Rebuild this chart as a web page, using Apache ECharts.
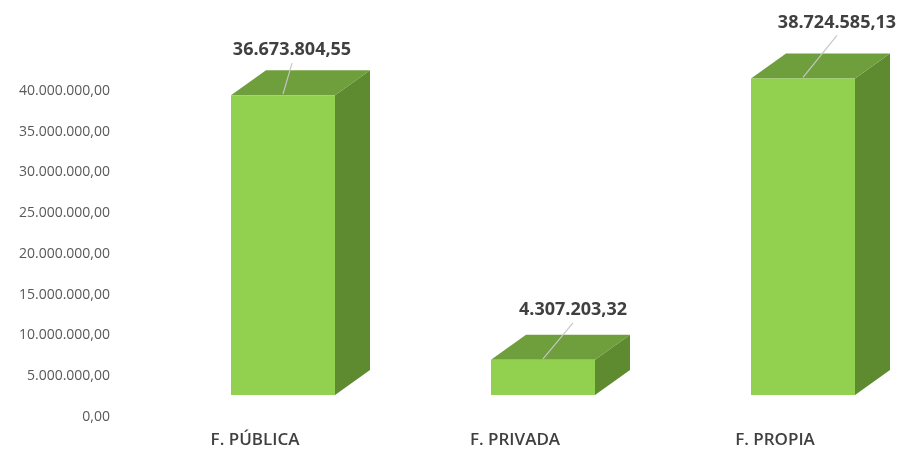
<!DOCTYPE html>
<html lang="es">
<head>
<meta charset="utf-8">
<title>Financiación</title>
<script src="https://cdn.jsdelivr.net/npm/echarts@6/dist/echarts.min.js"></script>
<style>
  html, body { margin: 0; padding: 0; background: #fff; }
  #main { width: 905px; height: 453px; }
</style>
</head>
<body>
<div id="main"></div>
<script>
// datos
var categories = ['F. PÚBLICA', 'F. PRIVADA', 'F. PROPIA'];
var values = [36673804.55, 4307203.32, 38724585.13];
var axisMin = 0;
var axisMax = 40000000;
var axisStep = 5000000;

// 40000000 -> 40.000.000,00
function fmt(v) {
    var parts = Number(v).toFixed(2).split('.');
    return parts[0].replace(/\B(?=(\d{3})+(?!\d))/g, '.') + ',' + parts[1];
}

// where each value label sits relative to the bar's front top edge
var labelShift = [[9, -45], [30, -50], [34, -56]];
var depthX = 35, depthY = 25;

var myChart = echarts.init(document.getElementById('main'));

myChart.setOption({
    animation: false,
    grid: [
        // grid 0 carries the visible axis labels (back wall)
        {left: 125, width: 790, top: 91, height: 326},
        // grid 1 carries the bars (front plane)
        {left: 125, width: 790, top: 68, height: 327}
    ],
    xAxis: [{
        gridIndex: 0,
        type: 'category',
        data: categories,
        axisLine: {show: false},
        axisTick: {show: false},
        axisLabel: {
            margin: 15,
            color: '#404040',
            fontSize: 17,
            fontWeight: 600,
            fontFamily: 'Open Sans'
        }
    }, {
        gridIndex: 1,
        type: 'category',
        data: categories,
        show: false
    }],
    yAxis: [{
        gridIndex: 0,
        type: 'value',
        min: axisMin,
        max: axisMax,
        interval: axisStep,
        axisLine: {show: false},
        axisTick: {show: false},
        splitLine: {show: false},
        axisLabel: {
            margin: 15,
            formatter: fmt,
            color: '#595959',
            fontSize: 14,
            fontFamily: 'Open Sans'
        }
    }, {
        gridIndex: 1,
        type: 'value',
        min: axisMin,
        max: axisMax,
        interval: axisStep,
        show: false
    }],
    series: [{
        type: 'custom',
        xAxisIndex: 1,
        yAxisIndex: 1,
        data: values.map(function (v, i) { return [i, v]; }),
        renderItem: function (params, api) {
            var i = api.value(0);
            var top = api.coord([i, api.value(1)]);
            var base = api.coord([i, 0]);
            var w = api.size([1, 0])[0] * 0.4;
            var cx = top[0] + 28;
            var x0 = cx - w / 2, x1 = cx + w / 2;
            var yT = top[1], yB = base[1];
            var sh = labelShift[params.dataIndex];
            var lx = cx + sh[0], ly = yT + sh[1];
            return {
                type: 'group',
                children: [{
                    type: 'polygon',
                    shape: {points: [[x1, yT], [x1 + depthX, yT - depthY], [x1 + depthX, yB - depthY], [x1, yB]]},
                    style: {fill: '#5e8a30'}
                }, {
                    type: 'polygon',
                    shape: {points: [[x0, yT], [x1, yT], [x1 + depthX, yT - depthY], [x0 + depthX, yT - depthY]]},
                    style: {fill: '#6f9e3c'}
                }, {
                    type: 'rect',
                    shape: {x: x0, y: yT, width: w, height: yB - yT},
                    style: {fill: '#92d050'}
                }, {
                    type: 'line',
                    shape: {x1: cx, y1: yT - 1, x2: lx, y2: ly + 13},
                    style: {stroke: '#c6c6c6', lineWidth: 1.2}
                }, {
                    type: 'text',
                    style: {
                        x: lx,
                        y: ly,
                        text: fmt(api.value(1)),
                        align: 'center',
                        verticalAlign: 'middle',
                        fill: '#404040',
                        fontSize: 18,
                        fontWeight: 'bold',
                        fontFamily: 'Open Sans'
                    }
                }]
            };
        }
    }]
});
</script>
</body>
</html>
